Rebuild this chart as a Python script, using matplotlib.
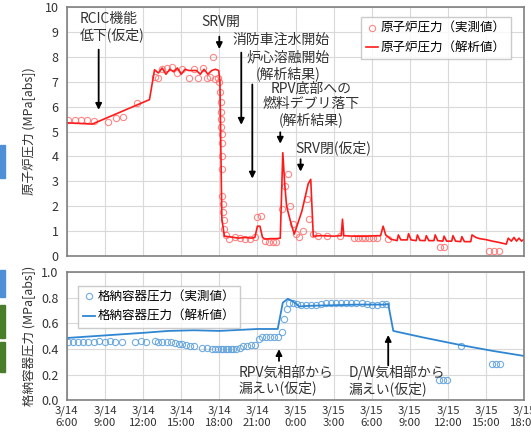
import matplotlib
matplotlib.use('Agg')
import matplotlib.pyplot as plt
from matplotlib.patches import Rectangle

plt.rcParams['font.family'] = ['Noto Sans CJK JP', 'DejaVu Sans']

# 時間軸: 3/14 6:00 からの経過時間 [h]
tick_hours = list(range(0, 37, 3))
tick_labels = ['3/14\n6:00', '3/14\n9:00', '3/14\n12:00', '3/14\n15:00', '3/14\n18:00',
               '3/14\n21:00', '3/15\n0:00', '3/15\n3:00', '3/15\n6:00', '3/15\n9:00',
               '3/15\n12:00', '3/15\n15:00', '3/15\n18:00']

# 原子炉圧力（解析値）
rpv_calc_t = [0, 2.0, 6.5, 6.9, 7.2, 7.5, 7.8, 8.1, 8.4, 8.7, 9.0, 9.3, 9.6, 9.9, 10.2,
              10.5, 10.8, 11.1, 11.4, 11.7, 11.95, 12.05, 12.2, 12.4, 13.0, 13.5, 14.0,
              14.5, 14.8, 15.0, 15.2, 15.4, 15.6, 16.0, 16.5, 16.8, 17.0, 17.15, 17.3,
              17.6, 17.9, 18.5, 19.0, 19.2, 19.4, 20.0, 21.0, 21.6, 21.7, 21.8, 22.5,
              23.5, 24.7, 24.9, 25.1, 25.5, 26.0, 26.1, 26.3, 26.8, 26.9, 27.1, 27.5,
              27.6, 27.8, 28.2, 28.3, 28.5, 28.9, 29.0, 29.2, 29.6, 29.7, 29.9, 30.3,
              30.4, 30.6, 31.0, 31.1, 31.3, 31.8, 31.9, 32.2, 32.5, 33.0, 33.5, 34.0,
              34.6, 34.75, 35.0, 35.2, 35.4, 35.6, 35.8, 36.0]
rpv_calc_v = [5.35, 5.3, 6.28, 7.48, 7.35, 7.55, 7.3, 7.5, 7.4, 7.55, 7.3, 7.5, 7.45,
              7.45, 7.45, 7.3, 7.5, 7.3, 7.45, 7.5, 7.45, 7.0, 1.5, 0.8, 0.76, 0.72,
              0.75, 0.72, 0.75, 1.2, 1.2, 0.75, 0.68, 0.7, 0.7, 0.72, 4.15, 2.9, 2.0,
              1.4, 0.88, 1.8, 2.9, 3.08, 0.8, 0.82, 0.8, 0.82, 1.48, 0.82, 0.8, 0.8,
              0.82, 1.2, 0.85, 0.68, 0.62, 0.85, 0.65, 0.65, 0.9, 0.65, 0.62, 0.85,
              0.63, 0.62, 0.82, 0.62, 0.62, 0.85, 0.62, 0.6, 0.8, 0.6, 0.6, 0.82, 0.6,
              0.58, 0.78, 0.58, 0.58, 0.85, 0.75, 0.7, 0.66, 0.6, 0.55, 0.48, 0.72,
              0.6, 0.75, 0.6, 0.72, 0.6, 0.68]

# 原子炉圧力（実測値）
rpv_meas_t = [0.1, 0.6, 1.1, 1.6, 2.1, 3.2, 3.9, 4.4, 5.5, 6.9, 7.2, 7.5, 7.9, 8.3, 8.7,
              9.1, 9.6, 10.0, 10.3, 10.7, 11.0, 11.3, 11.5, 11.7, 11.9, 12.0, 12.05, 12.1,
              12.1, 12.15, 12.15, 12.2, 12.2, 12.2, 12.25, 12.25, 12.3, 12.3, 12.35, 12.4,
              12.5, 12.8, 13.2, 13.6, 14.0, 14.4, 14.8, 15.0, 15.3, 15.6, 15.9, 16.2,
              16.5, 16.9, 17.2, 17.4, 17.6, 17.8, 18.0, 18.3, 18.6, 18.9, 19.1, 19.4,
              19.8, 20.5, 21.5, 22.6, 22.9, 23.2, 23.5, 23.8, 24.1, 24.4, 25.3, 29.4,
              29.7, 33.2, 33.6, 34.0]
rpv_meas_v = [5.45, 5.45, 5.45, 5.45, 5.42, 5.4, 5.55, 5.6, 6.15, 7.2, 7.15, 7.5, 7.55,
              7.6, 7.35, 7.5, 7.15, 7.5, 7.15, 7.55, 7.15, 7.2, 8.0, 7.1, 7.15, 7.0, 6.6,
              6.2, 5.8, 5.5, 5.2, 4.9, 4.55, 4.0, 3.5, 2.4, 2.1, 1.75, 1.45, 1.1, 0.85,
              0.7, 0.75, 0.72, 0.7, 0.68, 0.75, 1.55, 1.6, 0.6, 0.55, 0.55, 0.58, 1.9,
              2.8, 3.3, 2.0, 1.3, 0.9, 0.75, 1.0, 2.3, 1.5, 0.9, 0.8, 0.8, 0.8, 0.72,
              0.72, 0.72, 0.72, 0.72, 0.72, 0.72, 0.68, 0.38, 0.38, 0.2, 0.2, 0.2]

# 格納容器圧力（解析値）
pcv_calc_t = [0, 3, 6, 8, 10, 12, 13, 14, 15, 16.6, 17.0, 17.4, 17.8, 18.3, 19, 21, 23,
              25.0, 25.3, 25.7, 28, 31, 33.5, 36]
pcv_calc_v = [0.485, 0.505, 0.525, 0.54, 0.545, 0.54, 0.545, 0.55, 0.555, 0.555, 0.76,
              0.79, 0.77, 0.73, 0.735, 0.74, 0.745, 0.745, 0.75, 0.54, 0.49, 0.43,
              0.385, 0.345]

# 格納容器圧力（実測値）
pcv_meas_t = [0.1, 0.5, 0.9, 1.3, 1.7, 2.1, 2.5, 3.0, 3.4, 3.8, 4.3, 5.4, 5.8, 6.2, 6.9,
              7.2, 7.5, 7.9, 8.2, 8.5, 8.8, 9.1, 9.4, 9.7, 10.0, 10.6, 11.0, 11.4, 11.7,
              11.9, 12.1, 12.3, 12.5, 12.7, 12.9, 13.1, 13.3, 13.6, 13.9, 14.2, 14.5,
              14.8, 15.1, 15.4, 15.7, 16.0, 16.3, 16.6, 16.9, 17.1, 17.3, 17.5, 17.8,
              18.1, 18.4, 18.8, 19.2, 19.6, 20.0, 20.4, 20.8, 21.2, 21.6, 22.0, 22.4,
              22.8, 23.2, 23.6, 24.0, 24.4, 24.8, 25.1, 29.3, 29.6, 29.9, 31.0, 33.5,
              33.8, 34.1]
pcv_meas_v = [0.455, 0.455, 0.455, 0.455, 0.455, 0.455, 0.46, 0.455, 0.46, 0.455, 0.455,
              0.455, 0.46, 0.455, 0.46, 0.455, 0.455, 0.45, 0.45, 0.445, 0.44, 0.44,
              0.43, 0.425, 0.42, 0.41, 0.405, 0.40, 0.40, 0.40, 0.40, 0.40, 0.40, 0.40,
              0.40, 0.40, 0.40, 0.41, 0.42, 0.42, 0.43, 0.43, 0.48, 0.49, 0.49, 0.49,
              0.49, 0.49, 0.535, 0.63, 0.71, 0.76, 0.76, 0.75, 0.745, 0.74, 0.74, 0.745,
              0.75, 0.755, 0.755, 0.76, 0.76, 0.76, 0.76, 0.755, 0.755, 0.75, 0.745,
              0.745, 0.75, 0.75, 0.16, 0.16, 0.16, 0.42, 0.28, 0.28, 0.28]

red = '#ff1a1a'
red_pt = '#ff7070'
blue = '#2f86d2'
blue_pt = '#5b9fdc'
grid_c = '#d9d9d9'
frame_c = '#808080'
txt_c = '#333333'

fig = plt.figure(figsize=(5.31, 4.37), dpi=100)
ax1 = fig.add_axes([0.126, 0.414, 0.861, 0.570])
ax2 = fig.add_axes([0.126, 0.084, 0.861, 0.294])

# 左端の色付きタブ
for y0, y1, c in [(145, 178, '#4f8fd6'), (270, 297, '#4f8fd6'),
                  (305, 338, '#4a7d2a'), (342, 372, '#4a7d2a')]:
    fig.patches.append(Rectangle((0, 1 - y1 / 437), 5 / 531, (y1 - y0) / 437,
                                 transform=fig.transFigure, color=c))

# 上段: 原子炉圧力
ax1.plot(rpv_meas_t, rpv_meas_v, 'o', mfc='none', mec=red_pt, ms=4.5, mew=0.8,
         alpha=0.85, label='原子炉圧力（実測値）')
ax1.plot(rpv_calc_t, rpv_calc_v, '-', color=red, lw=1.2, label='原子炉圧力（解析値）')
ax1.set_xlim(0, 36)
ax1.set_ylim(0, 10)
ax1.set_yticks(range(0, 11))
ax1.set_xticks(tick_hours)
ax1.set_xticklabels([])
ax1.set_ylabel('原子炉圧力 (MPa[abs])', fontsize=9, color=txt_c)
ax1.yaxis.set_label_coords(-0.068, 0.5)
ax1.legend(loc='upper right', fontsize=9, frameon=True, edgecolor='#bfbfbf',
           fancybox=False, handlelength=1.0, handletextpad=0.2,
           borderpad=0.4, labelspacing=0.5, bbox_to_anchor=(0.985, 0.985))

# 下段: 格納容器圧力
ax2.plot(pcv_meas_t, pcv_meas_v, 'o', mfc='none', mec=blue_pt, ms=4.5, mew=0.8,
         alpha=0.85, label='格納容器圧力（実測値）')
ax2.plot(pcv_calc_t, pcv_calc_v, '-', color=blue, lw=1.3, label='格納容器圧力（解析値）')
ax2.set_xlim(0, 36)
ax2.set_ylim(0, 1.0)
ax2.set_yticks([0.0, 0.2, 0.4, 0.6, 0.8, 1.0])
ax2.set_yticklabels(['0.0', '0.2', '0.4', '0.6', '0.8', '1.0'])
ax2.set_xticks(tick_hours)
ax2.set_xticklabels(tick_labels, linespacing=1.25)
ax2.set_ylabel('格納容器圧力 (MPa[abs])', fontsize=9, color=txt_c)
ax2.yaxis.set_label_coords(-0.068, 0.5)
ax2.legend(loc='upper left', fontsize=9, frameon=True, edgecolor='#bfbfbf',
           fancybox=False, handlelength=1.0, handletextpad=0.2,
           borderpad=0.4, labelspacing=0.5, bbox_to_anchor=(0.01, 0.94))

for ax in (ax1, ax2):
    ax.grid(True, color=grid_c, lw=0.8)
    ax.set_axisbelow(True)
    ax.tick_params(length=0, labelsize=9, colors=txt_c, pad=6)
    for s in ax.spines.values():
        s.set_color(frame_c)
        s.set_linewidth(1.2)
ax2.tick_params(axis='x', labelsize=8.2, pad=4)

arrow = dict(arrowstyle='-|>', color='black', lw=1.3, mutation_scale=9)

# 上段の注記
ax1.text(1.0, 9.18, 'RCIC機能\n低下(仮定)', fontsize=10, color=txt_c, va='center',
         linespacing=1.1)
ax1.annotate('', xy=(2.5, 5.76), xytext=(2.5, 8.4), arrowprops=arrow)
ax1.text(12.1, 9.4, 'SRV開', fontsize=10, color=txt_c, ha='center', va='center')
ax1.annotate('', xy=(12.0, 8.2), xytext=(12.0, 8.92), arrowprops=arrow)
ax1.text(13.0, 8.68, '消防車注水開始', fontsize=10, color=txt_c, va='center')
ax1.annotate('', xy=(13.73, 5.16), xytext=(13.73, 8.28), arrowprops=arrow)
ax1.text(17.45, 7.64, '炉心溶融開始\n(解析結果)', fontsize=10, color=txt_c,
         ha='center', va='center', linespacing=1.1)
ax1.annotate('', xy=(14.6, 3.0), xytext=(14.6, 7.0), arrowprops=arrow)
ax1.text(19.2, 6.08, 'RPV底部への\n燃料デブリ落下\n(解析結果)', fontsize=10, color=txt_c,
         ha='center', va='center', linespacing=1.1)
ax1.annotate('', xy=(16.8, 4.4), xytext=(16.8, 5.08), arrowprops=arrow)
ax1.text(18.0, 4.36, 'SRV閉(仮定)', fontsize=10, color=txt_c, va='center')
ax1.annotate('', xy=(18.4, 3.28), xytext=(18.4, 4.0), arrowprops=arrow)

# 下段の注記
ax2.text(13.5, 0.154, 'RPV気相部から\n漏えい(仮定)', fontsize=10, color=txt_c,
         va='center', linespacing=1.1)
ax2.annotate('', xy=(16.7, 0.42), xytext=(16.7, 0.285), arrowprops=arrow)
ax2.text(22.2, 0.154, 'D/W気相部から\n漏えい(仮定)', fontsize=10, color=txt_c,
         va='center', linespacing=1.1)
ax2.annotate('', xy=(25.3, 0.53), xytext=(25.3, 0.25), arrowprops=arrow)

fig.savefig('out.png', dpi=100)
